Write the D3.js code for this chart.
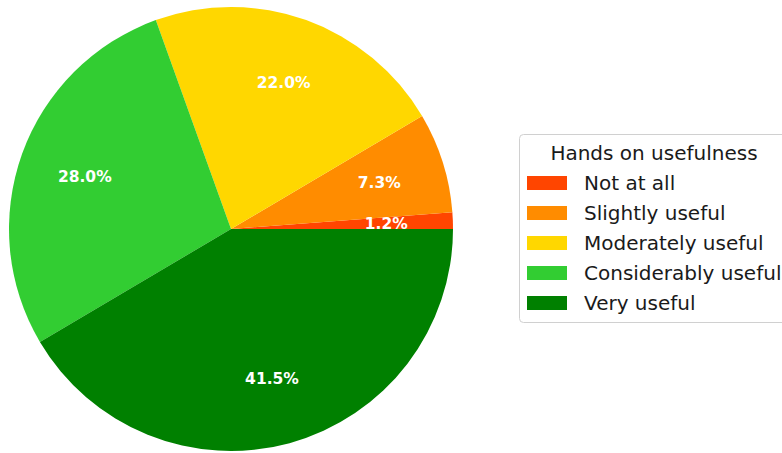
<!DOCTYPE html>
<head>
  <meta charset="utf-8">
  <script src="https://d3js.org/d3.v7.min.js"></script>
  <style>
    body { margin: 0; background: #fff; }
    text { font-family: 'DejaVu Sans', sans-serif; }
    .pct { font-size: 15.5px; font-weight: bold; fill: #fff; }
    .legendTitle, .legendLabel { font-size: 20px; fill: #1a1a1a; }
  </style>
</head>
<body>
<div id="chart"></div>
<script>

// data
const categories = ["Not at all", "Slightly useful", "Moderately useful", "Considerably useful", "Very useful"];
const shares = [1.2, 7.3, 22.0, 28.0, 41.5];
const colors = ["#FF4500", "#FF8C00", "#FFD700", "#32CD32", "#008000"];
const legendTitle = "Hands on usefulness";

const width = 782, height = 453;
const cx = 231, cy = 229, radius = 222;

const svg = d3.select("#chart").append("svg")
    .attr("width", width)
    .attr("height", height);

const data = categories.map((c, i) => ({ name: c, value: shares[i], color: colors[i] }));

// matplotlib style: start at 3 o'clock, go counterclockwise
const pie = d3.pie()
    .sort(null)
    .value(d => d.value)
    .startAngle(Math.PI / 2)
    .endAngle(Math.PI / 2 - 2 * Math.PI);

const arc = d3.arc().innerRadius(0).outerRadius(radius);
const labelArc = d3.arc().innerRadius(radius * 0.7).outerRadius(radius * 0.7);

const g = svg.append("g").attr("transform", "translate(" + cx + "," + cy + ")");

const arcs = pie(data);

g.selectAll("path")
    .data(arcs)
    .enter().append("path")
    .attr("d", arc)
    .style("fill", d => d.data.color);

g.selectAll(".pct")
    .data(arcs)
    .enter().append("text")
    .attr("class", "pct")
    .attr("transform", d => "translate(" + labelArc.centroid(d) + ")")
    .attr("text-anchor", "middle")
    .attr("dy", "0.35em")
    .text(d => d.data.value.toFixed(1) + "%");

// legend
const lg = svg.append("g").attr("transform", "translate(519,134)");

lg.append("rect")
    .attr("x", 0.5).attr("y", 0.5)
    .attr("width", 290).attr("height", 188)
    .attr("rx", 4)
    .style("fill", "#fff")
    .style("stroke", "#d0d0d0");

lg.append("text")
    .attr("class", "legendTitle")
    .attr("x", 135)
    .attr("y", 26)
    .attr("text-anchor", "middle")
    .text(legendTitle);

const item = lg.selectAll(".item")
    .data(data)
    .enter().append("g")
    .attr("transform", (d, i) => "translate(0," + (49 + i * 30) + ")");

item.append("rect")
    .attr("x", 8).attr("y", -7)
    .attr("width", 40).attr("height", 14)
    .style("fill", d => d.color);

item.append("text")
    .attr("class", "legendLabel")
    .attr("x", 65)
    .attr("dy", "0.35em")
    .text(d => d.name);

</script>
</body>
